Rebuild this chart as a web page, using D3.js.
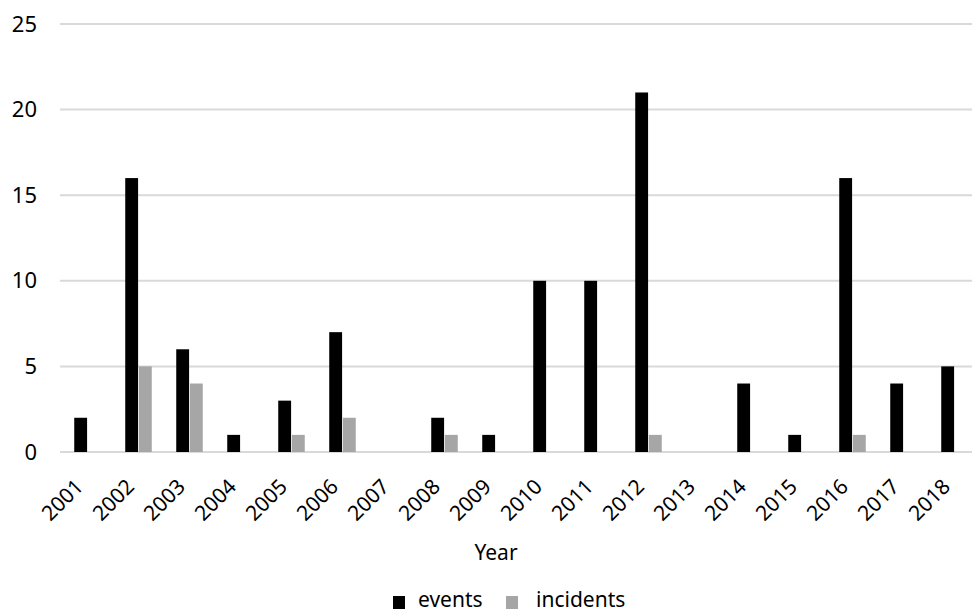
<!DOCTYPE html>
<html>
<head>
<meta charset="utf-8">
<script src="https://cdn.jsdelivr.net/npm/d3@7"></script>
<style>
  body { margin: 0; background: #fff; }
  svg { display: block; font-family: "Noto Sans", "Open Sans", sans-serif; }
</style>
</head>
<body>
<div id="chart"></div>
<script>
// 数据
const years = ["2001","2002","2003","2004","2005","2006","2007","2008","2009",
               "2010","2011","2012","2013","2014","2015","2016","2017","2018"];
const events =    [2, 16, 6, 1, 3, 7, 0, 2, 1, 10, 10, 21, 0, 4, 1, 16, 4, 5];
const incidents = [0,  5, 4, 0, 1, 2, 0, 1, 0,  0,  0,  1, 0, 0, 0,  1, 0, 0];
const seriesNames = ["events", "incidents"];
const seriesColors = ["#000000", "#a6a6a6"];
const yTicks = [0, 5, 10, 15, 20, 25];

function renderChart() {
    const width = 972, height = 614;
    const plot = {left: 62, right: 980, top: 24, bottom: 452};

    const svg = d3.select("#chart").append("svg")
        .attr("width", width)
        .attr("height", height);

    const x0 = d3.scaleBand()
        .domain(years)
        .range([plot.left, plot.right])
        .paddingInner(0.48)
        .paddingOuter(0.24);

    const x1 = d3.scaleBand()
        .domain(seriesNames)
        .range([0, x0.bandwidth()])
        .paddingInner(0.06);

    const y = d3.scaleLinear()
        .domain([0, 25])
        .range([plot.bottom, plot.top]);

    // 网格线
    svg.append("g")
        .selectAll("line")
        .data(yTicks)
        .enter().append("line")
        .attr("x1", 60)
        .attr("x2", width)
        .attr("y1", d => y(d))
        .attr("y2", d => y(d))
        .attr("stroke", "#d9d9d9")
        .attr("stroke-width", 2);

    // 纵轴
    const yAxis = d3.axisLeft(y).tickValues(yTicks).tickSize(0).tickPadding(0);
    svg.append("g")
        .attr("transform", "translate(37,0)")
        .call(yAxis)
        .call(g => g.select(".domain").remove())
        .selectAll("text")
        .attr("font-family", "Noto Sans, sans-serif")
        .attr("font-size", "22px")
        .attr("fill", "#000");

    // 柱子
    const table = years.map((yr, i) => ({year: yr, values: [
        {key: "events", value: events[i]},
        {key: "incidents", value: incidents[i]}
    ]}));

    const groups = svg.append("g")
        .selectAll("g")
        .data(table)
        .enter().append("g")
        .attr("transform", d => `translate(${x0(d.year)},0)`);

    groups.selectAll("rect")
        .data(d => d.values.filter(v => v.value > 0))
        .enter().append("rect")
        .attr("x", d => x1(d.key))
        .attr("y", d => y(d.value))
        .attr("width", x1.bandwidth())
        .attr("height", d => y(0) - y(d.value))
        .attr("fill", d => seriesColors[seriesNames.indexOf(d.key)]);

    // 横轴标签
    const xAxis = d3.axisBottom(x0).tickSize(0).tickPadding(0);
    svg.append("g")
        .attr("transform", `translate(0,${plot.bottom})`)
        .call(xAxis)
        .call(g => g.select(".domain").remove())
        .selectAll("text")
        .attr("font-family", "Noto Sans, sans-serif")
        .attr("font-size", "21px")
        .attr("fill", "#000")
        .attr("text-anchor", "end")
        .attr("dy", "0")
        .attr("transform", "translate(-3,36) rotate(-45)");

    // 横轴标题
    svg.append("text")
        .attr("x", 496)
        .attr("y", 560)
        .attr("text-anchor", "middle")
        .attr("font-size", "21px")
        .text("Year");

    // 图例
    const legend = svg.append("g");
    const legendItems = [
        {name: seriesNames[0], color: seriesColors[0], sx: 393, tx: 418},
        {name: seriesNames[1], color: seriesColors[1], sx: 506, tx: 536}
    ];
    legend.selectAll("rect")
        .data(legendItems)
        .enter().append("rect")
        .attr("x", d => d.sx)
        .attr("y", 596)
        .attr("width", 12)
        .attr("height", 13)
        .attr("fill", d => d.color);
    legend.selectAll("text")
        .data(legendItems)
        .enter().append("text")
        .attr("x", d => d.tx)
        .attr("y", 607)
        .attr("font-size", "21px")
        .text(d => d.name);
}

renderChart();
</script>
</body>
</html>
